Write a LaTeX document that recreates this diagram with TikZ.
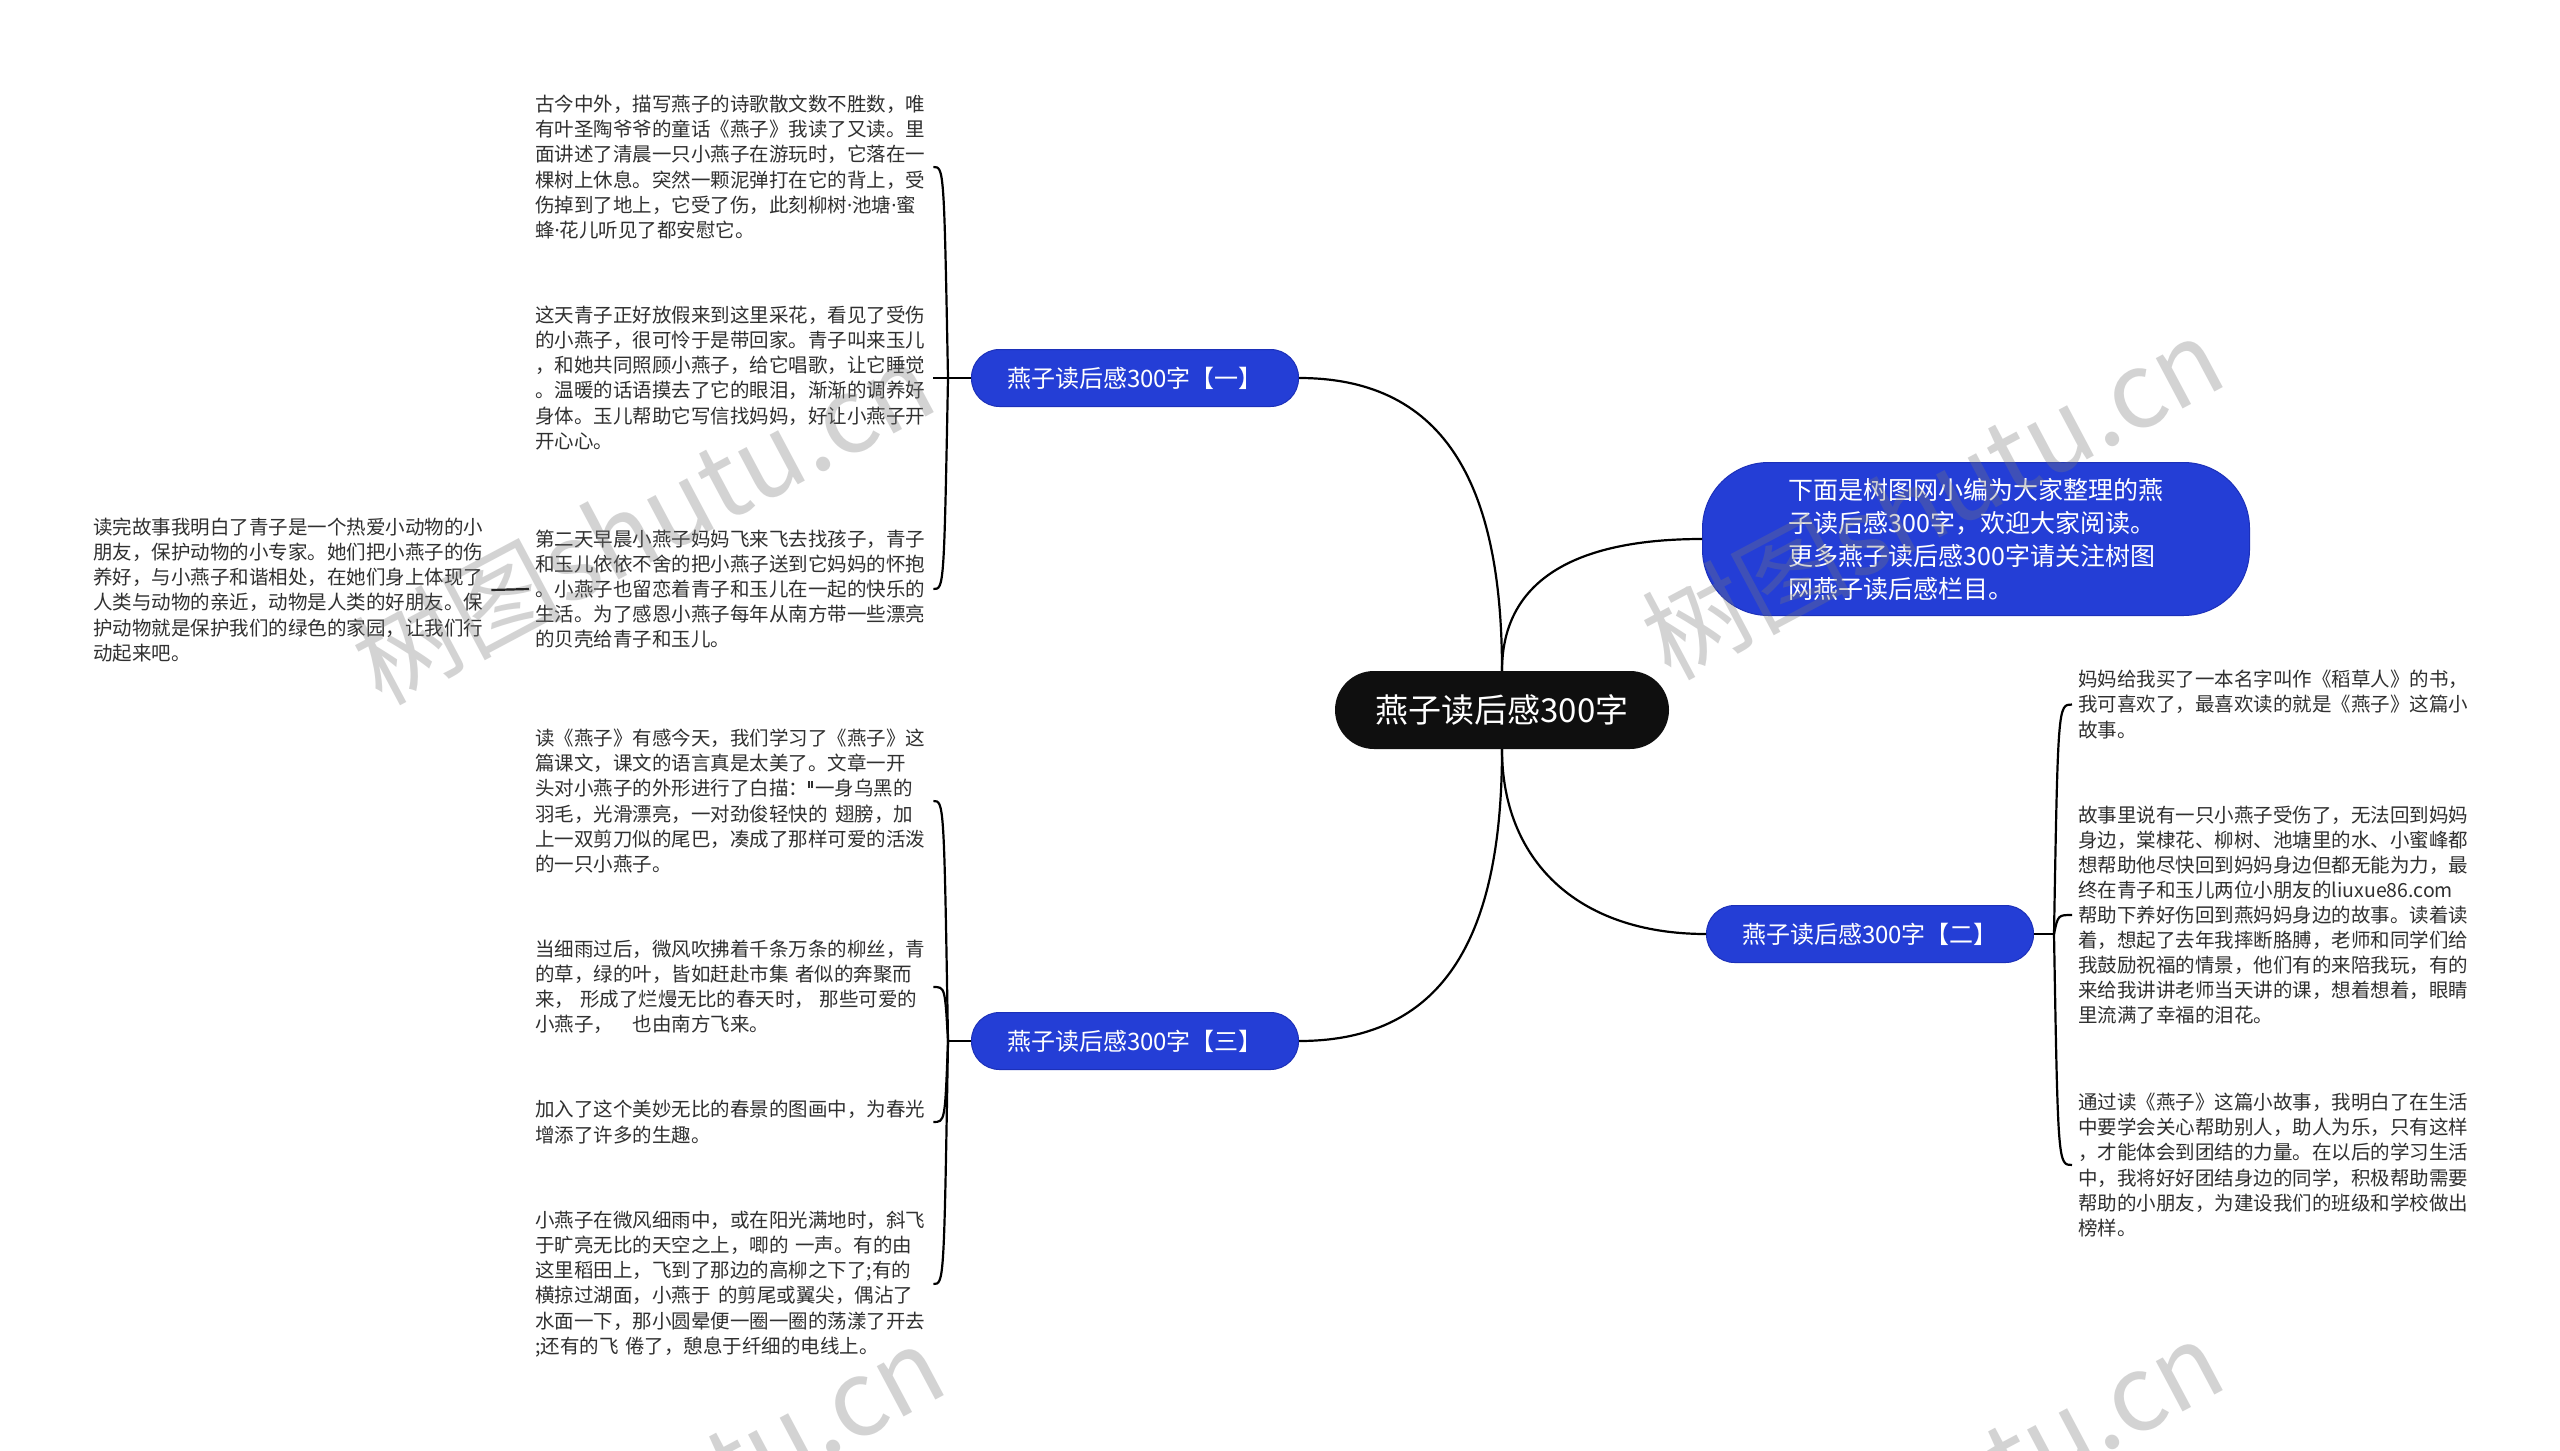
\documentclass[tikz,border=0pt]{standalone}
\usepackage{fontspec}
\setmainfont{Noto Sans CJK SC}
\newfontfamily\latinfont{Noto Sans}
\newcommand{\mdot}{{\latinfont ·}}
\newcommand{\squote}{\raisebox{0.42em}{\rule{0.07em}{0.32em}\hspace{0.09em}\rule{0.07em}{0.32em}}\hspace{0.12em}}
\definecolor{nodeblue}{RGB}{36,62,214}
\definecolor{nodeblueD}{RGB}{28,48,185}
\definecolor{leafgray}{RGB}{48,48,48}
\definecolor{wmgray}{RGB}{120,120,120}
\begin{document}
\begin{tikzpicture}[x=1pt,y=-1pt,
  conn/.style={line width=2.2pt, black},
  bluebox/.style={rounded corners=28pt, fill=nodeblue, draw=nodeblueD, line width=1pt, text=white,
    font=\fontsize{24}{30}\selectfont, minimum width=327pt, minimum height=57pt, inner sep=0pt},
  leaf/.style={text width=392pt, align=left, inner xsep=6pt, inner ysep=3pt, text=leafgray,
    font=\fontsize{19.5}{25.1}\selectfont},
  wm/.style={text=wmgray, text opacity=0.32, font=\fontsize{105}{110}\selectfont, rotate=28, inner sep=0pt}
]
\useasboundingbox (0,0) rectangle (2560,1451);
\clip (0,0) rectangle (2560,1451);
\fill[white] (0,0) rectangle (2560,1451);

% root and branches
\node[fill=black!94, rounded corners=39pt, minimum width=334pt, minimum height=78pt, text=white,
  font=\fontsize{33}{40}\selectfont, inner sep=0pt] (root) at (1502,710) {燕子读后感300字};
\node[bluebox] (b1) at (1135,378) {燕子读后感300字【一】};
\node[bluebox] (b3) at (1135,1041) {燕子读后感300字【三】};
\node[bluebox] (b2) at (1870,934) {燕子读后感300字【二】};
\node[bluebox, rounded corners=66pt, minimum width=547pt, minimum height=153pt, align=left,
  font=\fontsize{25}{33}\selectfont] (intro) at (1976,539)
  {下面是树图网小编为大家整理的燕\\子读后感300字，欢迎大家阅读。\\更多燕子读后感300字请关注树图\\网燕子读后感栏目。};

% left leaves of branch 1
\node[leaf, anchor=west] (la) at (529,167) {古今中外，描写燕子的诗歌散文数不胜数，唯\\有叶圣陶爷爷的童话《燕子》我读了又读。里\\面讲述了清晨一只小燕子在游玩时，它落在一\\棵树上休息。突然一颗泥弹打在它的背上，受\\伤掉到了地上，它受了伤，此刻柳树\mdot 池塘\mdot 蜜\\蜂\mdot 花儿听见了都安慰它。};
\node[leaf, anchor=west] (lb) at (529,378) {这天青子正好放假来到这里采花，看见了受伤\\的小燕子，很可怜于是带回家。青子叫来玉儿\\，和她共同照顾小燕子，给它唱歌，让它睡觉\\。温暖的话语摸去了它的眼泪，渐渐的调养好\\身体。玉儿帮助它写信找妈妈，好让小燕子开\\开心心。};
\node[leaf, anchor=west] (lc) at (529,589) {第二天早晨小燕子妈妈飞来飞去找孩子，青子\\和玉儿依依不舍的把小燕子送到它妈妈的怀抱\\。小燕子也留恋着青子和玉儿在一起的快乐的\\生活。为了感恩小燕子每年从南方带一些漂亮\\的贝壳给青子和玉儿。};
\node[leaf, anchor=west] (ld) at (87,590) {读完故事我明白了青子是一个热爱小动物的小\\朋友，保护动物的小专家。她们把小燕子的伤\\养好，与小燕子和谐相处，在她们身上体现了\\人类与动物的亲近，动物是人类的好朋友。保\\护动物就是保护我们的绿色的家园，让我们行\\动起来吧。};

% left leaves of branch 3
\node[leaf, anchor=west] (le) at (529,801) {读《燕子》有感今天，我们学习了《燕子》这\\篇课文，课文的语言真是太美了。文章一开\\头对小燕子的外形进行了白描：\squote 一身乌黑的\\羽毛，光滑漂亮，一对劲俊轻快的\hspace{0.4em}翅膀，加\\上一双剪刀似的尾巴，凑成了那样可爱的活泼\\的一只小燕子。};
\node[leaf, anchor=west] (lf) at (529,987) {当细雨过后，微风吹拂着千条万条的柳丝，青\\的草，绿的叶，皆如赶赴市集 者似的奔聚而\\来，\hspace{0.3em}形成了烂熳无比的春天时，\hspace{0.3em}那些可爱的\\小燕子，\hspace{1em}也由南方飞来。};
\node[leaf, anchor=west] (lg) at (529,1122) {加入了这个美妙无比的春景的图画中，为春光\\增添了许多的生趣。};
\node[leaf, anchor=west] (lh) at (529,1284) {小燕子在微风细雨中，或在阳光满地时，斜飞\\于旷亮无比的天空之上，唧的 一声。有的由\\这里稻田上，飞到了那边的高柳之下了;有的\\横掠过湖面，小燕于\hspace{0.4em}的剪尾或翼尖，偶沾了\\水面一下，那小圆晕便一圈一圈的荡漾了开去\\;还有的飞 倦了，憩息于纤细的电线上。};

% right leaves of branch 2
\node[leaf, anchor=west] (li) at (2072,704.5) {妈妈给我买了一本名字叫作《稻草人》的书，\\我可喜欢了，最喜欢读的就是《燕子》这篇小\\故事。};
\node[leaf, anchor=west] (lj) at (2072,915) {故事里说有一只小燕子受伤了，无法回到妈妈\\身边，棠棣花、柳树、池塘里的水、小蜜峰都\\想帮助他尽快回到妈妈身边但都无能为力，最\\终在青子和玉儿两位小朋友的liuxue86.com\\帮助下养好伤回到燕妈妈身边的故事。读着读\\着，想起了去年我摔断胳膊，老师和同学们给\\我鼓励祝福的情景，他们有的来陪我玩，有的\\来给我讲讲老师当天讲的课，想着想着，眼睛\\里流满了幸福的泪花。};
\node[leaf, anchor=west] (lk) at (2072,1165) {通过读《燕子》这篇小故事，我明白了在生活\\中要学会关心帮助别人，助人为乐，只有这样\\，才能体会到团结的力量。在以后的学习生活\\中，我将好好团结身边的同学，积极帮助需要\\帮助的小朋友，为建设我们的班级和学校做出\\榜样。};

% root connectors
\draw[conn] (root.north) .. controls +(0,-180) and +(150,0) .. (b1.east);
\draw[conn] (root.north) .. controls +(0,-95) and +(-120,0) .. (intro.west);
\draw[conn] (root.south) .. controls +(0,110) and +(-130,0) .. (b2.west);
\draw[conn] (root.south) .. controls +(0,180) and +(150,0) .. (b3.east);

% branch 1 connectors
\coordinate (j1) at (948,378);
\draw[conn] (b1.west) -- (j1);
\draw[conn] (j1) .. controls (944,167) .. (la.east);
\draw[conn] (j1) -- (lb.east);
\draw[conn] (j1) .. controls (944,589) .. (lc.east);
\draw[conn] (lc.west) -- (ld.east);

% branch 3 connectors
\coordinate (j3) at (948,1041);
\draw[conn] (b3.west) -- (j3);
\draw[conn] (j3) .. controls (944,801) .. (le.east);
\draw[conn] (j3) .. controls (945,987) .. (lf.east);
\draw[conn] (j3) .. controls (945,1122) .. (lg.east);
\draw[conn] (j3) .. controls (944,1284) .. (lh.east);

% branch 2 connectors
\coordinate (j2) at (2054,934);
\draw[conn] (b2.east) -- (j2);
\draw[conn] (j2) .. controls (2058,704.5) .. (li.west);
\draw[conn] (j2) .. controls (2058,915) .. (lj.west);
\draw[conn] (j2) .. controls (2058,1165) .. (lk.west);

% watermarks
\node[wm] (w1) at (643,522) {树图shutu.cn};
\node[wm] (w2) at (1932,497) {树图shutu.cn};
\node[wm] (w3) at (653,1505) {树图shutu.cn};
\node[wm] (w4) at (1932,1500) {树图shutu.cn};
\end{tikzpicture}
\end{document}
